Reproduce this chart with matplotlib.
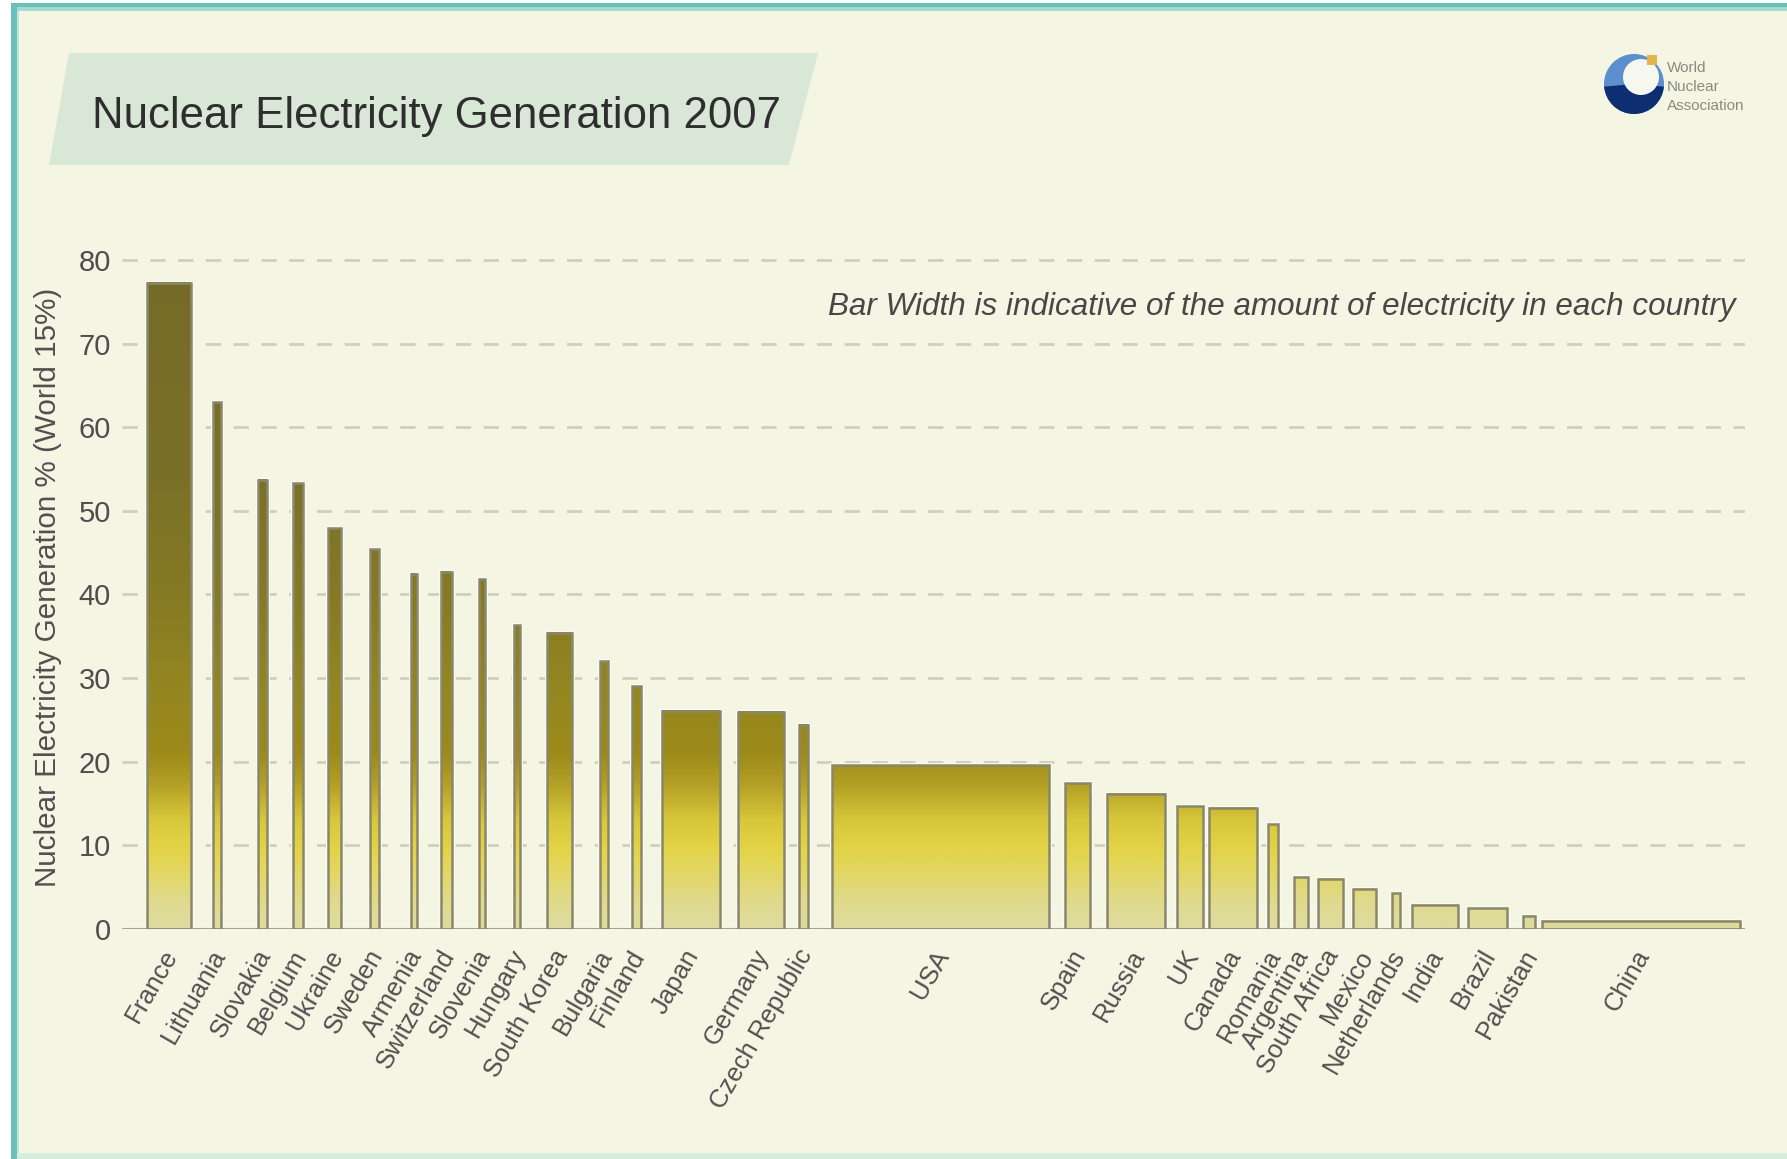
import numpy as np
import matplotlib
matplotlib.use("Agg")
import matplotlib.pyplot as plt
from matplotlib import font_manager
from matplotlib.colors import LinearSegmentedColormap, Normalize
from matplotlib.patches import Polygon, Rectangle, Circle, Wedge

# --- data ----------------------------------------------------------------
countries = ["France", "Lithuania", "Slovakia", "Belgium", "Ukraine", "Sweden",
             "Armenia", "Switzerland", "Slovenia", "Hungary", "South Korea",
             "Bulgaria", "Finland", "Japan", "Germany", "Czech Republic", "USA",
             "Spain", "Russia", "UK", "Canada", "Romania", "Argentina",
             "South Africa", "Mexico", "Netherlands", "India", "Brazil",
             "Pakistan", "China"]

# nuclear share of electricity generation, %
nuclear_share = [77.3, 63.0, 53.7, 53.3, 47.9, 45.4, 42.5, 42.7, 41.8, 36.3,
                 35.4, 32.0, 29.0, 26.1, 26.0, 24.4, 19.6, 17.4, 16.2, 14.7,
                 14.5, 12.5, 6.2, 6.0, 4.8, 4.3, 2.9, 2.5, 1.6, 1.0]

# total electricity (relative units, = bar width on the chart)
electricity = [44, 8, 9, 10, 13, 9, 6, 11, 6, 6, 25, 8, 9, 58, 46, 9, 217, 25,
               58, 26, 48, 10, 14, 25, 23, 8, 46, 39, 12, 198]

y_ticks = [0, 10, 20, 30, 40, 50, 60, 70, 80]

# --- layout --------------------------------------------------------------
W, H = 1787, 1159
CREAM = "#f5f5e3"
lead = 25          # space before first bar
x_max = 1623       # width of the plotting area in bar units
# spacing between neighbouring bars as drawn in the original
gaps = [22, 37, 26, 25, 29, 32, 24, 27, 29, 27, 28, 24, 21, 18, 15, 24, 16,
        17, 12, 6, 11, 16, 10, 10, 16, 12, 10, 16, 7]

x_left = lead + np.concatenate([[0], np.cumsum(np.array(electricity[:-1]) + np.array(gaps))])

names = {f.name for f in font_manager.fontManager.ttflist}
narrow = "Liberation Sans Narrow" in names
BASE = ["Liberation Sans", "DejaVu Sans"]
NARROW = ["Liberation Sans Narrow"] + BASE if narrow else BASE

plt.rcParams["font.family"] = BASE
plt.rcParams["lines.scale_dashes"] = False

fig = plt.figure(figsize=(W / 100, H / 100), dpi=100, facecolor="white")

# background, frame, title plate, logo (pixel coordinates)
bg = fig.add_axes([0, 0, 1, 1])
bg.set_xlim(0, W)
bg.set_ylim(H, 0)
bg.axis("off")
bg.add_patch(Rectangle((11, 3), W - 11, H - 3, fc=CREAM, ec="none"))
bg.add_patch(Rectangle((11, 3), W - 11, 4, fc="#6dbfb9", ec="none"))
bg.add_patch(Rectangle((11, 7), W - 11, 4, fc="#a3dccf", ec="none"))
bg.add_patch(Rectangle((11, 3), 6, H - 3, fc="#6dbfb9", ec="none"))
bg.add_patch(Rectangle((17, 11), 2, H - 11, fc="#bfe6da", ec="none"))
bg.add_patch(Rectangle((17, 1153), W, 6, fc="#d5efdc", ec="none"))
bg.add_patch(Polygon([(69, 53), (818, 53), (789, 165), (49, 165)],
                     closed=True, fc="#d9e8d6", ec="none"))

# World Nuclear Association logo
bg.add_patch(Circle((1634, 84), 30, fc="#5b8fcf", ec="none"))
bg.add_patch(Wedge((1634, 84), 30, 5, 175, fc="#0d2f72", ec="none"))
bg.add_patch(Circle((1641, 77), 18, fc="#f6f8f0", ec="none"))
bg.add_patch(Rectangle((1647, 55), 10, 10, fc="#e0b64a", ec="none"))
for txt, yy in zip(["World", "Nuclear", "Association"], [68, 87, 106]):
    bg.text(1667, yy, txt, fontsize=11, color="#8a8a80", va="center", ha="left")

fig.text(92 / W, 1 - 128 / H, "Nuclear Electricity Generation 2007",
         fontsize=38.5 if narrow else 31.5, color="#2e2e2e",
         family=NARROW, ha="left", va="baseline")

# --- chart ---------------------------------------------------------------
px_per_unit = (929 - 260) / 80
top = 929 - 81 * px_per_unit
ax = fig.add_axes([122 / W, 1 - 929 / H, (1745 - 122) / W, (929 - top) / H])
ax.patch.set_alpha(0)

grad_stops = [(0.0, "#dedb9f"), (3, "#e0da8e"), (6.5, "#e3d764"), (9.5, "#e3d347"),
              (13, "#d6c63a"), (17, "#b5a126"), (21, "#9c8a19"), (28, "#958720"),
              (40, "#857a24"), (55, "#797028"), (80, "#746b29")]
cmap = LinearSegmentedColormap.from_list("nuc", [(v / 80, c) for v, c in grad_stops])
norm = Normalize(0, 80)

# halo and outline
ax.bar(x_left, nuclear_share, width=electricity, align="edge",
       facecolor="none", edgecolor="#fbfbf1", linewidth=3.5, zorder=1.8)
bars = ax.bar(x_left, nuclear_share, width=electricity, align="edge",
              facecolor="none", edgecolor="#8a876a", linewidth=1.8, zorder=3)

for b in bars:
    x0, w, h = b.get_x(), b.get_width(), b.get_height()
    grad = np.linspace(0, h, 256)[:, None]
    ax.imshow(grad, extent=(x0, x0 + w, 0, h), origin="lower", cmap=cmap,
              norm=norm, aspect="auto", interpolation="bilinear", zorder=2)

ax.axhline(0, color="#a4a494", linewidth=2.2, zorder=2.5)

ax.set_xlim(0, x_max)
ax.set_ylim(0, 81)
ax.set_yticks(y_ticks)
ax.set_yticklabels([str(t) for t in y_ticks])
ax.set_xticks([])
ax.tick_params(axis="y", length=0, pad=8, labelsize=21, labelcolor="#4e4e4e")
ax.grid(axis="y", color="#cfcfbe", linewidth=2.0, linestyle=(0, (11, 9)), zorder=0.5)
ax.set_axisbelow(True)
for s in ax.spines.values():
    s.set_visible(False)

for b, name in zip(bars, countries):
    cx = b.get_x() + b.get_width() / 2
    ax.annotate(name, xy=(cx, 0), xytext=(2, -16), textcoords="offset points",
                rotation=60, rotation_mode="anchor", ha="right", va="center",
                fontsize=18.5, color="#505050", annotation_clip=False)

ax.text(1614, (929 - 315) / px_per_unit,
        "Bar Width is indicative of the amount of electricity in each country",
        ha="right", va="baseline", style="italic", family=NARROW,
        fontsize=27.5 if narrow else 22.6, color="#474747")

fig.text(48 / W, 1 - 587 / H, "Nuclear Electricity Generation % (World 15%)",
         rotation=90, ha="center", va="center", fontsize=21.3, color="#505050")

fig.savefig("out.png", dpi=100, facecolor="white")
